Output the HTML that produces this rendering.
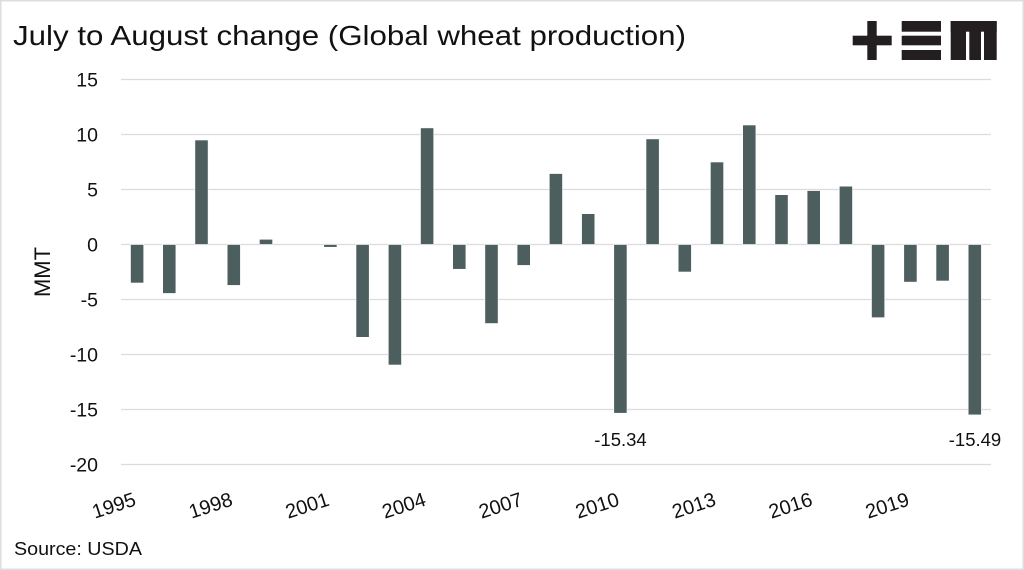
<!DOCTYPE html>
<html>
<head>
<meta charset="utf-8">
<style>
html,body{margin:0;padding:0;background:#fff;}
svg{display:block;}
text{font-family:"Liberation Sans",Arial,sans-serif;fill:#111;}
</style>
</head>
<body>
<svg width="1024" height="570" viewBox="0 0 1024 570" xmlns="http://www.w3.org/2000/svg">
<rect x="0" y="0" width="1024" height="570" fill="#fff"/>
<rect x="0.75" y="0.75" width="1022.5" height="568.5" fill="none" stroke="#dedede" stroke-width="1.5"/>

<!-- Title -->
<text x="13" y="45" font-size="28" textLength="673" lengthAdjust="spacingAndGlyphs">July to August change (Global wheat production)</text>

<!-- Logo -->
<g fill="#231f20">
  <rect x="852.7" y="35.7" width="39" height="9.6"/>
  <rect x="867.3" y="21" width="9.4" height="39"/>
  <rect x="901.7" y="21" width="39.3" height="10.7"/>
  <rect x="901.7" y="35.7" width="39.3" height="9.6"/>
  <rect x="901.7" y="50" width="39.3" height="10"/>
  <rect x="950.7" y="21" width="46" height="10.7"/>
  <rect x="950.7" y="21" width="15.3" height="39"/>
  <rect x="969.3" y="21" width="11.7" height="39"/>
  <rect x="984" y="21" width="12.7" height="39"/>
</g>

<!-- Gridlines -->
<g stroke="#dcdcdc" stroke-width="1.3">
  <line x1="121" x2="991" y1="79.5" y2="79.5"/>
  <line x1="121" x2="991" y1="134.5" y2="134.5"/>
  <line x1="121" x2="991" y1="189.5" y2="189.5"/>
  <line x1="121" x2="991" y1="244.5" y2="244.5"/>
  <line x1="121" x2="991" y1="299.5" y2="299.5"/>
  <line x1="121" x2="991" y1="354.5" y2="354.5"/>
  <line x1="121" x2="991" y1="409.5" y2="409.5"/>
  <line x1="121" x2="991" y1="464.5" y2="464.5"/>
</g>

<!-- Y tick labels -->
<g font-size="19.5" text-anchor="end">
  <text x="98" y="86.5">15</text>
  <text x="98" y="141.5">10</text>
  <text x="98" y="196.5">5</text>
  <text x="98" y="251.5">0</text>
  <text x="98" y="306.5">-5</text>
  <text x="98" y="361.5">-10</text>
  <text x="98" y="416.5">-15</text>
  <text x="98" y="471.5">-20</text>
</g>

<!-- Y axis title -->
<text x="0" y="0" font-size="22" text-anchor="middle" transform="translate(50,272) rotate(-90)">MMT</text>

<!-- Bars -->
<g fill="#4d5e5f" stroke="#ffffff" stroke-width="0.6">
  <rect x="130.5" y="244.5" width="13.2" height="38.5"/>
  <rect x="162.7" y="244.5" width="13.2" height="48.95"/>
  <rect x="194.9" y="140.0" width="13.2" height="104.5"/>
  <rect x="227.2" y="244.5" width="13.2" height="40.9"/>
  <rect x="259.4" y="239.3" width="13.2" height="5.2"/>
  <rect x="323.8" y="244.5" width="13.2" height="2.75"/>
  <rect x="356.0" y="244.5" width="13.2" height="92.8"/>
  <rect x="388.3" y="244.5" width="13.2" height="120.5"/>
  <rect x="420.5" y="127.9" width="13.2" height="116.6"/>
  <rect x="452.7" y="244.5" width="13.2" height="24.75"/>
  <rect x="484.9" y="244.5" width="13.2" height="79.0"/>
  <rect x="517.1" y="244.5" width="13.2" height="20.9"/>
  <rect x="549.3" y="173.55" width="13.2" height="70.95"/>
  <rect x="581.6" y="213.7" width="13.2" height="30.8"/>
  <rect x="613.8" y="244.5" width="13.2" height="168.7"/>
  <rect x="646.0" y="138.9" width="13.2" height="105.6"/>
  <rect x="678.2" y="244.5" width="13.2" height="27.5"/>
  <rect x="710.4" y="162.0" width="13.2" height="82.5"/>
  <rect x="742.7" y="125.0" width="13.2" height="119.5"/>
  <rect x="774.9" y="194.7" width="13.2" height="49.8"/>
  <rect x="807.1" y="190.6" width="13.2" height="53.9"/>
  <rect x="839.3" y="186.2" width="13.2" height="58.3"/>
  <rect x="871.5" y="244.5" width="13.2" height="73.15"/>
  <rect x="903.8" y="244.5" width="13.2" height="37.6"/>
  <rect x="936.0" y="244.5" width="13.2" height="36.5"/>
  <rect x="968.2" y="244.5" width="13.2" height="170.4"/>
</g>

<!-- Data labels -->
<g font-size="18.5" text-anchor="middle">
  <text x="620.5" y="446">-15.34</text>
  <text x="975" y="446">-15.49</text>
</g>

<!-- X tick labels -->
<g font-size="20" text-anchor="end">
  <text transform="translate(137.1,505) rotate(-18)">1995</text>
  <text transform="translate(233.8,505) rotate(-18)">1998</text>
  <text transform="translate(330.4,505) rotate(-18)">2001</text>
  <text transform="translate(427.1,505) rotate(-18)">2004</text>
  <text transform="translate(523.8,505) rotate(-18)">2007</text>
  <text transform="translate(620.4,505) rotate(-18)">2010</text>
  <text transform="translate(717.1,505) rotate(-18)">2013</text>
  <text transform="translate(813.7,505) rotate(-18)">2016</text>
  <text transform="translate(910.4,505) rotate(-18)">2019</text>
</g>

<!-- Source -->
<text x="14" y="555" font-size="18" textLength="128" lengthAdjust="spacingAndGlyphs">Source: USDA</text>
</svg>
</body>
</html>
